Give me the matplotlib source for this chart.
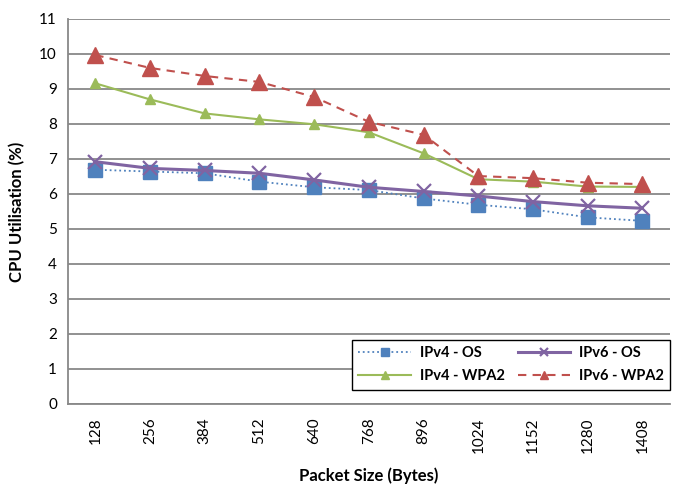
import matplotlib
matplotlib.use('Agg')
import matplotlib.pyplot as plt

plt.rcParams['font.family'] = ['Lato', 'DejaVu Sans']

packet_sizes = ['128', '256', '384', '512', '640', '768', '896', '1024', '1152', '1280', '1408']

ipv4_os = [6.69, 6.64, 6.59, 6.35, 6.19, 6.11, 5.87, 5.69, 5.56, 5.33, 5.23]
ipv6_os = [6.92, 6.73, 6.67, 6.59, 6.40, 6.19, 6.07, 5.94, 5.78, 5.66, 5.59]
ipv4_wpa2 = [9.16, 8.70, 8.30, 8.13, 7.99, 7.76, 7.16, 6.42, 6.35, 6.21, 6.20]
ipv6_wpa2 = [9.97, 9.60, 9.37, 9.20, 8.77, 8.06, 7.69, 6.51, 6.45, 6.32, 6.28]


def plot():
    fig = plt.figure(figsize=(6.8, 4.86), dpi=100)
    ax = fig.add_axes([0.1, 0.169, 0.885, 0.792])

    x = list(range(len(packet_sizes)))

    l1, = ax.plot(x, ipv4_os, color='#4F81BD', linestyle=':', linewidth=1.3,
                  marker='s', markersize=10, label='IPv4 - OS', zorder=3)
    l2, = ax.plot(x, ipv6_os, color='#8064A2', linestyle='-', linewidth=2.2,
                  marker='x', markersize=10, markeredgewidth=1.6, label='IPv6 - OS', zorder=4)
    l3, = ax.plot(x, ipv4_wpa2, color='#9BBB59', linestyle='-', linewidth=1.5,
                  marker='^', markersize=7, label='IPv4 - WPA2', zorder=3)
    l4, = ax.plot(x, ipv6_wpa2, color='#C0504D', linestyle=(0, (4, 3)), linewidth=1.5,
                  marker='^', markersize=11, label='IPv6 - WPA2', zorder=3)

    ax.set_xlim(-0.5, len(packet_sizes) - 0.5)
    ax.set_ylim(0, 11)
    ax.set_yticks(range(0, 12))
    ax.set_xticks(x)
    ax.set_xticklabels(packet_sizes, rotation=90)
    ax.tick_params(axis='both', length=0, labelsize=11, pad=8)
    ax.tick_params(axis='x', pad=10)

    ax.grid(axis='y', color='#888888', linewidth=1.3)
    ax.set_axisbelow(True)
    for side in ['top', 'right']:
        ax.spines[side].set_visible(False)
    for side in ['left', 'bottom']:
        ax.spines[side].set_color('#888888')
        ax.spines[side].set_linewidth(1.3)

    ax.set_ylabel('CPU Utilisation (%)', fontsize=12, fontweight='bold', labelpad=10)
    ax.set_xlabel('Packet Size (Bytes)', fontsize=12, fontweight='bold', labelpad=10)

    # column-wise fill: reorder so rows read OS / WPA2
    leg = ax.legend([l1, l3, l2, l4],
                    ['IPv4 - OS', 'IPv4 - WPA2', 'IPv6 - OS', 'IPv6 - WPA2'],
                    ncol=2, loc='lower right', bbox_to_anchor=(1.013, 0.018),
                    prop={'weight': 'bold', 'size': 10.5}, frameon=True,
                    fancybox=False, edgecolor='black', framealpha=1,
                    handlelength=3.6, columnspacing=0.9, borderpad=0.45,
                    labelspacing=0.6, handletextpad=0.6)
    leg.get_frame().set_linewidth(1.0)
    for h in leg.legend_handles:
        h.set_markersize(6)

    fig.savefig('out.png', dpi=100)


if __name__ == "__main__":
    plot()
